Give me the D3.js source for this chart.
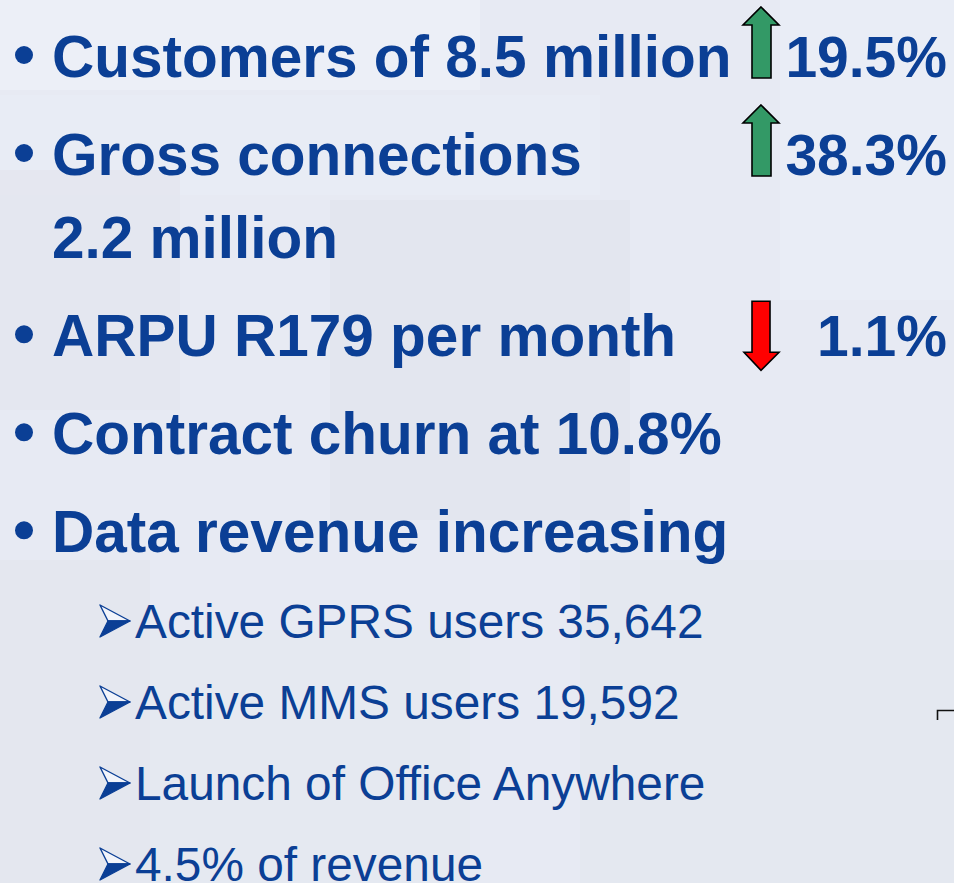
<!DOCTYPE html>
<html lang="en">
<head>
  <meta charset="UTF-8">
  <title>Customers and data revenue</title>
  <script src="https://d3js.org/d3.v7.min.js"></script>
  <style>
    body { margin: 0; background: #e7eaf3; }
    text { font-family: "Liberation Sans", Arial, sans-serif; fill: #0b3f95; }
  </style>
</head>
<body>
  <script>
    // slide content
    const mainBullets = [
      "Customers of 8.5 million",
      "Gross connections",
      "ARPU R179 per month",
      "Contract churn at 10.8%",
      "Data revenue increasing"
    ];
    const wrapLines = ["", "2.2 million", "", "", ""];
    const changeValues = [19.5, 38.3, -1.1, null, null];
    const subBullets = [
      "Active GPRS users 35,642",
      "Active MMS users 19,592",
      "Launch of Office Anywhere",
      "4.5% of revenue"
    ];

    const width = 954;
    const height = 883;

    const svg = d3.select("body")
      .append("svg")
      .attr("width", width)
      .attr("height", height);

    // faint background blocks
    const bg = svg.append("g");
    bg.append("rect").attr("width", width).attr("height", height).attr("fill", "#e7eaf3");
    const blocks = [
      [0, 0, 480, 90, "#edf0f8"],
      [0, 95, 600, 100, "#e9ecf5"],
      [0, 170, 180, 240, "#e3e6ef"],
      [330, 200, 300, 320, "#e2e5ee"],
      [580, 560, 380, 330, "#e4e7ef"],
      [0, 560, 150, 330, "#e3e6ee"],
      [780, 0, 174, 300, "#eaedf6"],
      [150, 630, 320, 253, "#e5e8f0"]
    ];
    bg.selectAll("rect.b").data(blocks).enter().append("rect")
      .attr("class", "b")
      .attr("x", d => d[0]).attr("y", d => d[1])
      .attr("width", d => d[2]).attr("height", d => d[3])
      .attr("fill", d => d[4]).attr("opacity", 0.8);

    // baselines for main bullets (second bullet wraps onto a second line)
    const mainFont = 58.5;
    const subFont = 47.8;
    const rowY = d3.scaleLinear().domain([0, 1]).range([77, 175]);
    const mainY = [0, 1, 2.85, 3.85, 4.85].map(rowY);
    const subY = d3.scaleLinear().domain([0, 1]).range([638, 719]);

    const main = svg.append("g");
    mainBullets.forEach((t, i) => {
      main.append("circle")
        .attr("cx", 24).attr("cy", mainY[i] - 22).attr("r", 9)
        .attr("fill", "#0b3f95");
      main.append("text")
        .attr("x", 52).attr("y", mainY[i])
        .attr("font-size", mainFont).attr("font-weight", "bold")
        .text(t);
      if (wrapLines[i]) {
        main.append("text")
          .attr("x", 52).attr("y", mainY[i] + 83)
          .attr("font-size", mainFont).attr("font-weight", "bold")
          .text(wrapLines[i]);
      }
    });

    // change indicators
    const chg = svg.append("g");
    changeValues.forEach((v, i) => {
      if (v === null) return;
      const y = mainY[i];
      const up = v > 0;
      chg.append("text")
        .attr("x", 947).attr("y", y)
        .attr("text-anchor", "end")
        .attr("font-size", 57).attr("font-weight", "bold")
        .text(Math.abs(v).toFixed(1) + "%");
      // arrow: shaft 752-771, head 743-779
      const top = up ? y - 70 : y - 55;
      const bot = up ? y + 1 : y + 14;
      let pts;
      if (up) {
        const hb = top + 18;
        pts = [[761, top], [779, hb], [771, hb], [771, bot], [752, bot], [752, hb], [743, hb]];
      } else {
        const ht = bot - 18;
        pts = [[752, top], [770, top], [770, ht], [779, ht], [761, bot], [744, ht], [752, ht]];
      }
      chg.append("polygon")
        .attr("points", pts.map(p => p.join(",")).join(" "))
        .attr("fill", up ? "#339966" : "#ff0000")
        .attr("stroke", "#000").attr("stroke-width", 1.6)
        .attr("stroke-linejoin", "miter");
    });

    // sub bullets with arrowhead markers
    const sub = svg.append("g");
    subBullets.forEach((t, i) => {
      const y = subY(i);
      const mid = y - 17;
      sub.append("polygon")
        .attr("points", `100,${mid - 16} 130,${mid} 108,${mid}`)
        .attr("fill", "#f2f4fa").attr("stroke", "#0b3f95").attr("stroke-width", 1.4)
        .attr("stroke-linejoin", "round");
      sub.append("polygon")
        .attr("points", `108,${mid} 130,${mid} 100,${mid + 16}`)
        .attr("fill", "#0b3f95").attr("stroke", "#0b3f95").attr("stroke-width", 1.4)
        .attr("stroke-linejoin", "round");
      sub.append("text")
        .attr("x", 135).attr("y", y)
        .attr("font-size", subFont)
        .text(t);
    });

    // small corner mark at right edge
    svg.append("path")
      .attr("d", "M937.5,720 V710.5 H954")
      .attr("fill", "none").attr("stroke", "#111").attr("stroke-width", 1.6);
  </script>
</body>
</html>
